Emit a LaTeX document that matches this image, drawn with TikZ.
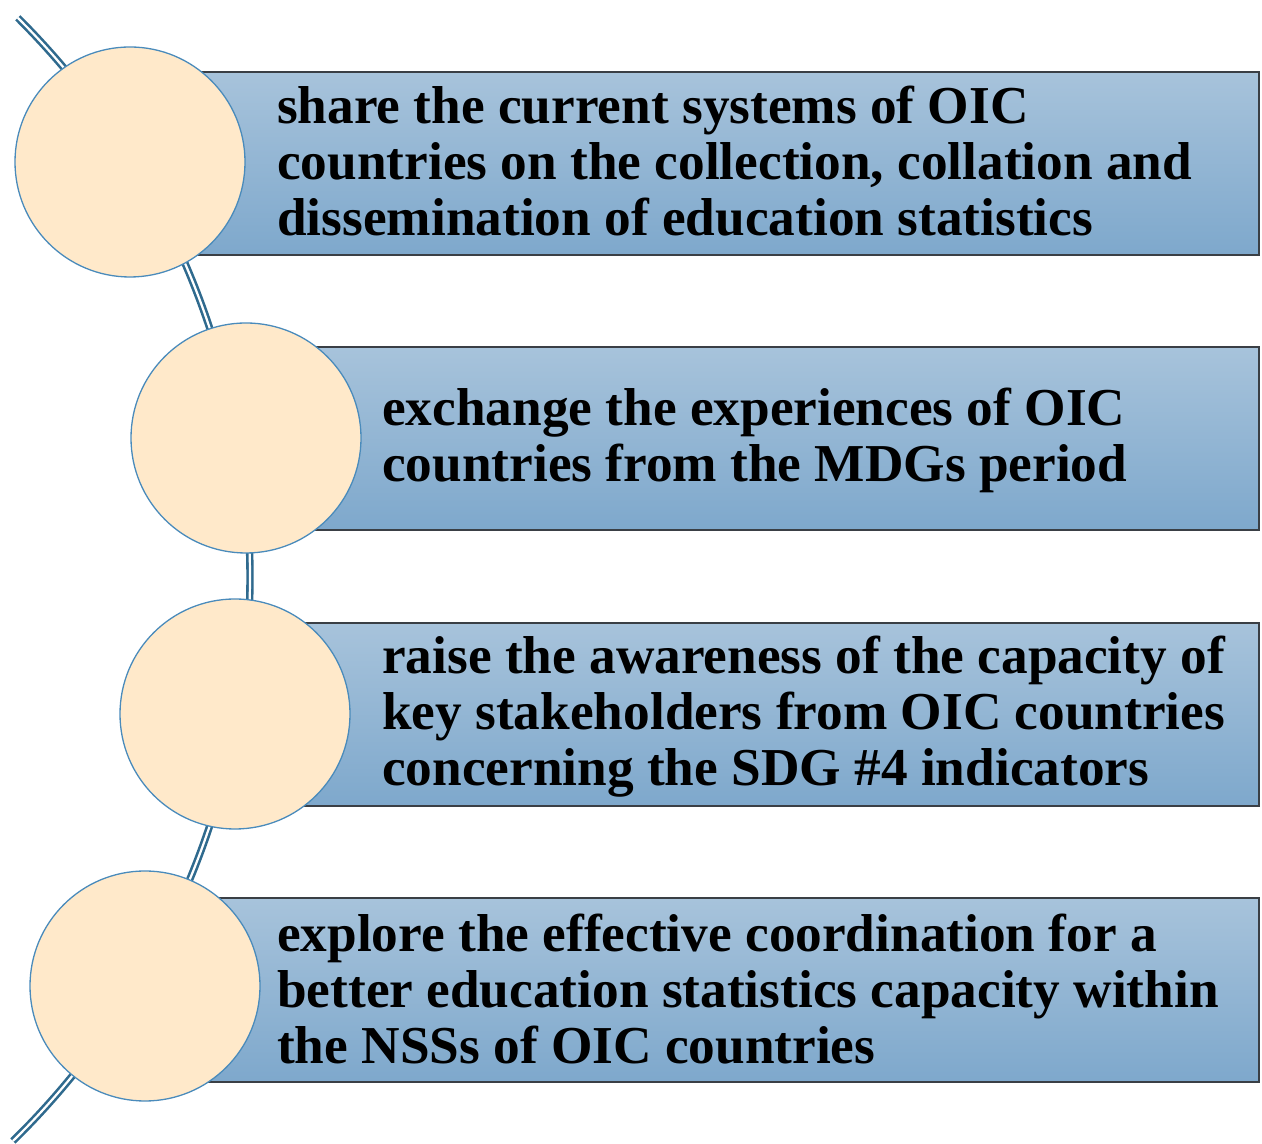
\documentclass[tikz,border=0pt]{standalone}
\usepackage{fontspec}
\setmainfont{Liberation Serif}
\definecolor{boxtop}{HTML}{A7C3DB}
\definecolor{boxbot}{HTML}{7EA8CC}
\definecolor{boxline}{HTML}{3A3F45}
\definecolor{circfill}{HTML}{FFE9CA}
\definecolor{circline}{HTML}{4A8BBB}
\definecolor{arcline}{HTML}{2F6A8E}
\begin{document}
\begin{tikzpicture}[x=1pt,y=1pt,
  band/.style={draw=boxline,line width=1.2pt,top color=boxtop,bottom color=boxbot},
  bead/.style={circle,draw=circline,line width=1.3pt,fill=circfill,minimum size=230pt,inner sep=0pt},
  label/.style={anchor=west,align=left,inner sep=0pt,font=\bfseries\fontsize{53.3}{56}\selectfont},
  spine/.style={draw=arcline,line width=2.6pt,double=white,double distance=2.2pt}]
\useasboundingbox (0,0) rectangle (1262,1144);
% bands
\draw[band] (130,889) rectangle (1259,1072) coordinate (r1);
\draw[band] (246,614) rectangle (1259,797) coordinate (r2);
\draw[band] (235,338) rectangle (1259,521) coordinate (r3);
\draw[band] (145,62) rectangle (1259,246) coordinate (r4);
% spine arc
\coordinate (ctr) at (-539.5,567);
\draw[spine] ([shift={(45.1:789.5)}]ctr) arc[start angle=45.1,end angle=-45.6,radius=789.5];
% beads
\node[bead] (c1) at (130,982) {};
\node[bead] (c2) at (246,706) {};
\node[bead] (c3) at (235,430) {};
\node[bead] (c4) at (145,158) {};
% texts
\node[label] (t1) at (277,983) {share the current systems of OIC\\countries on the collection, collation and\\dissemination of education statistics};
\node[label] (t2) at (382,704) {exchange the experiences of OIC\\countries from the MDGs period};
\node[label] (t3) at (382,427) {raise the awareness of the capacity of\\key stakeholders from OIC countries\\concerning the SDG \#4 indicators};
\node[label] (t4) at (277,155) {explore the effective coordination for a\\better education statistics capacity within\\the NSSs of OIC countries};
\end{tikzpicture}
\end{document}
